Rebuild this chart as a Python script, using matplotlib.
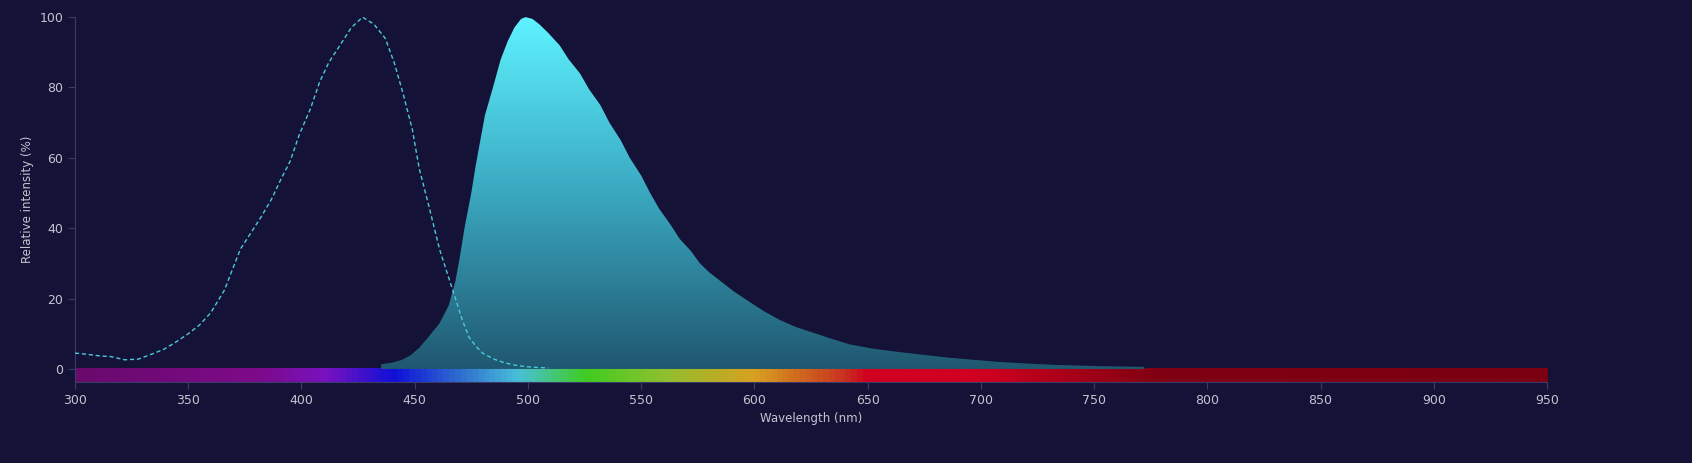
import numpy as np
import matplotlib.pyplot as plt
from matplotlib.colors import LinearSegmentedColormap
from matplotlib.patches import Polygon

# excitation (dashed) spectrum
exc_wl = [300, 305, 311, 316, 322, 328, 333, 339, 344, 350, 355, 360, 366, 373, 378, 382,
          387, 391, 395, 399, 404, 408, 412, 417, 422, 427, 432, 437, 441, 445, 449, 452,
          456, 461, 465, 468, 471, 474, 477, 480, 485, 490, 495, 500, 505, 509]
exc_val = [4.5, 4.2, 3.7, 3.5, 2.6, 2.8, 4.0, 5.5, 7.4, 10.0, 12.5, 16, 22.4, 34, 39, 43,
           48.5, 54, 59, 66.5, 74, 81.5, 87, 92, 97, 100, 98, 94, 87, 78, 68, 57,
           47, 34, 26, 20, 14, 9, 6.5, 4.5, 2.8, 1.7, 1.0, 0.6, 0.4, 0.3]

# emission (filled) spectrum
em_wl = [435, 440, 444, 448, 452, 456, 461, 465, 468, 470, 472, 475, 477, 479, 481, 485,
         488, 491, 494, 497, 499, 502, 505, 509, 514, 518, 523, 527, 532, 536, 541, 545,
         550, 554, 558, 563, 567, 572, 576, 580, 585, 591, 598, 604, 611, 618, 625, 633,
         642, 652, 664, 675, 686, 697, 708, 719, 731, 742, 753, 762, 772]
em_val = [1.3, 1.8, 2.5, 3.8, 6, 9, 13, 18, 25, 32, 40, 50, 58, 65, 72, 81,
          88, 93, 97, 99.5, 100, 99.5, 98, 95.5, 92, 88, 84, 79.5, 75, 70, 65, 60,
          55, 50, 45.5, 41, 37, 33.5, 30, 27.5, 25, 22, 19, 16.5, 14, 12, 10.5, 8.8,
          7, 5.8, 4.8, 4.0, 3.2, 2.6, 2.0, 1.6, 1.2, 1.0, 0.8, 0.7, 0.6]

# visible spectrum strip colours
strip_pos = [300, 380, 410, 440, 470, 495, 525, 560, 600, 640, 650, 700, 780, 950]
strip_col = ['#690a6c', '#7d0a8a', '#7812c0', '#1010d8', '#3070d0', '#48c0d8', '#40cc20',
             '#90c030', '#d8a020', '#c83020', '#d00020', '#d00020', '#800012', '#7a0012']

bg = '#141237'
txt = '#c4c4d0'
fig = plt.figure(figsize=(16.92, 4.63), dpi=100, facecolor=bg)
ax = fig.add_axes([0.0443, 0.175, 0.870, 0.788], facecolor=bg)
ax.set_xlim(300, 950)
ax.set_ylim(-3.7, 100)

# spectrum strip
pos = [(p - 300) / 650 for p in strip_pos]
cmap = LinearSegmentedColormap.from_list('spec', list(zip(pos, strip_col)))
grad = np.linspace(0, 1, 1000).reshape(1, -1)
ax.imshow(grad, cmap=cmap, extent=[300, 950, -3.7, 0], aspect='auto', zorder=1)

# emission gradient fill
verts = list(zip(em_wl, em_val)) + [(em_wl[-1], 0), (em_wl[0], 0)]
poly = Polygon(verts, closed=True, facecolor='none', edgecolor='none')
ax.add_patch(poly)
fcmap = LinearSegmentedColormap.from_list('fill', ['#1f5870', '#3aa8c0', '#5ef2ff'])
vg = np.linspace(0, 1, 500).reshape(-1, 1)
im = ax.imshow(vg, cmap=fcmap, origin='lower', extent=[435, 772, 0, 100],
               aspect='auto', zorder=2)
im.set_clip_path(poly)

# excitation dashed line
ax.plot(exc_wl, exc_val, color='#4cc8dc', lw=1, ls=(0, (3, 2)), zorder=3)

ax.set_xticks(range(300, 951, 50))
ax.set_yticks(range(0, 101, 20))
for s in ['top', 'right']:
    ax.spines[s].set_visible(False)
for s in ['left', 'bottom']:
    ax.spines[s].set_color('#3c3a6a')
ax.tick_params(colors='#3c3a6a', labelcolor=txt, labelsize=9, length=5)
ax.set_xlabel('Wavelength (nm)', color=txt, fontsize=8.5)
ax.set_ylabel('Relative intensity (%)', color=txt, fontsize=8.5)

fig.savefig('out.png', dpi=100, facecolor=bg)
